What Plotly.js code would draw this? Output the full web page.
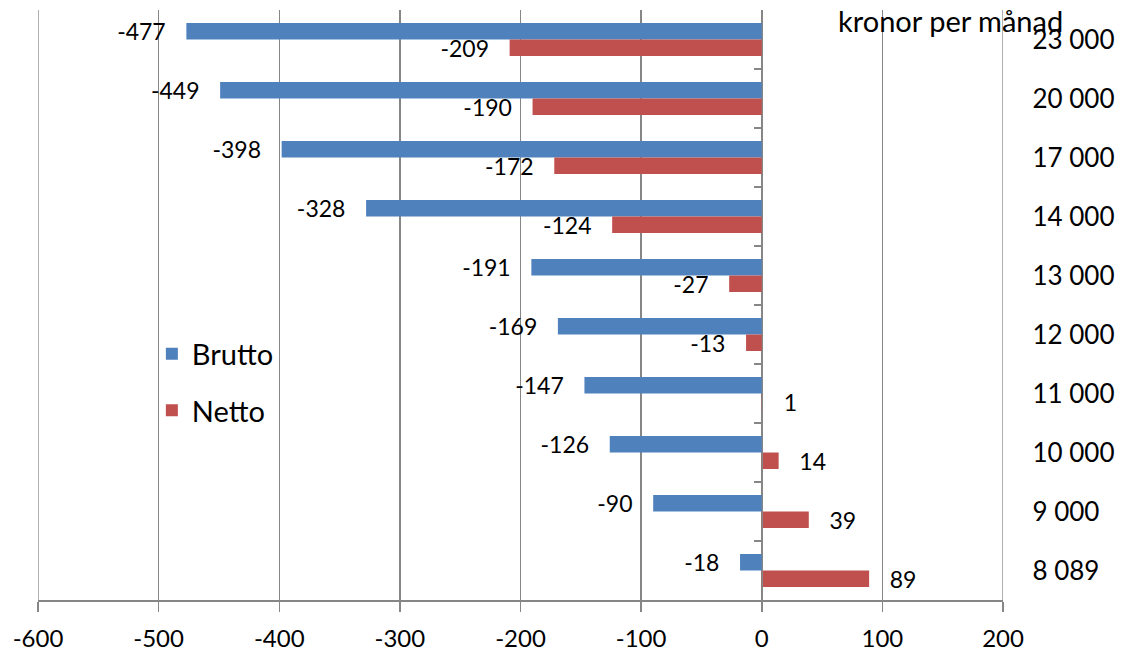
<!DOCTYPE html>
<html>
<head>
<meta charset="utf-8">
<script src="https://cdn.plot.ly/plotly-3.0.1.min.js"></script>
<style>html,body{margin:0;padding:0;background:#fff;}#chart{width:1121px;height:651px;}</style>
</head>
<body>
<div id="chart"></div>
<script>
const categories = ['23 000','20 000','17 000','14 000','13 000','12 000','11 000','10 000','9 000','8 089'];
const brutto = [-477,-449,-398,-328,-191,-169,-147,-126,-90,-18];
const netto = [-209,-190,-172,-124,-27,-13,1,14,39,89];
const xTicks = [-600,-500,-400,-300,-200,-100,0,100,200];

const NB = '\u00a0';
function labels(vals){
  return vals.map(v => v < 0 ? (String(v) + NB + NB + NB) : (NB + NB + NB + String(v)));
}
const FONT = 'Lato, "Open Sans", sans-serif';
const GRID = '#868686';

const traces = [
  {type:'bar', orientation:'h', name:'Brutto', x:brutto, y:categories,
   marker:{color:'#4F81BD'}, text:labels(brutto), textposition:'outside', constraintext:'none',
   textfont:{family:FONT,size:23,color:'#000'}, cliponaxis:false, legendgroup:'a'},
  {type:'bar', orientation:'h', name:'Netto', x:netto, y:categories,
   marker:{color:'#C0504D'}, text:labels(netto), textposition:'outside', constraintext:'none',
   textfont:{family:FONT,size:23,color:'#000'}, cliponaxis:false, legendgroup:'b'}
];

// frame lines at the two ends of the value axis (gridlines at -600 and 200)
const edgeShapes = [xTicks[0], xTicks[xTicks.length-1]].map(v => ({
  type:'line', xref:'x', yref:'paper', x0:v, x1:v, y0:0, y1:1,
  line:{color:GRID, width:1.3}, layer:'below'
}));

const layout = {
  width:1121, height:651,
  margin:{l:38, r:118, t:10, b:51},
  paper_bgcolor:'#fff', plot_bgcolor:'#fff',
  font:{family:FONT, color:'#000'},
  barmode:'group', bargap:0.44, bargroupgap:0,
  showlegend:true,
  legend:{x:0.118, y:0.369, xanchor:'left', yanchor:'middle', font:{family:FONT,size:29},
          tracegroupgap:16, bgcolor:'rgba(0,0,0,0)'},
  xaxis:{range:[-600,200], tickvals:xTicks, ticktext:xTicks.map(String),
         showgrid:true, gridcolor:GRID, gridwidth:1.3, zeroline:false,
         showline:true, linecolor:GRID, linewidth:2, ticks:'outside', ticklen:10, tickcolor:GRID, tickwidth:1.5,
         tickfont:{family:FONT,size:24}, ticklabelstandoff:6, fixedrange:true},
  yaxis:{type:'category', categoryorder:'array', categoryarray:categories, autorange:'reversed',
         anchor:'free', position:0.75, side:'right', ticks:'inside', ticklen:8, tickcolor:GRID, tickwidth:1.5,
         tickson:'boundaries', showline:true, linecolor:GRID, linewidth:1.5, showgrid:false, zeroline:false,
         tickfont:{family:FONT,size:26}, ticklabelstandoff:264, fixedrange:true},
  shapes: edgeShapes,
  annotations:[{text:'kronor per månad', xref:'paper', yref:'paper', x:0.827, y:0.983,
                xanchor:'left', yanchor:'middle', showarrow:false, font:{family:FONT,size:29,color:'#000'}}]
};

Plotly.newPlot('chart', traces, layout, {displayModeBar:false, staticPlot:true});
</script>
</body>
</html>
